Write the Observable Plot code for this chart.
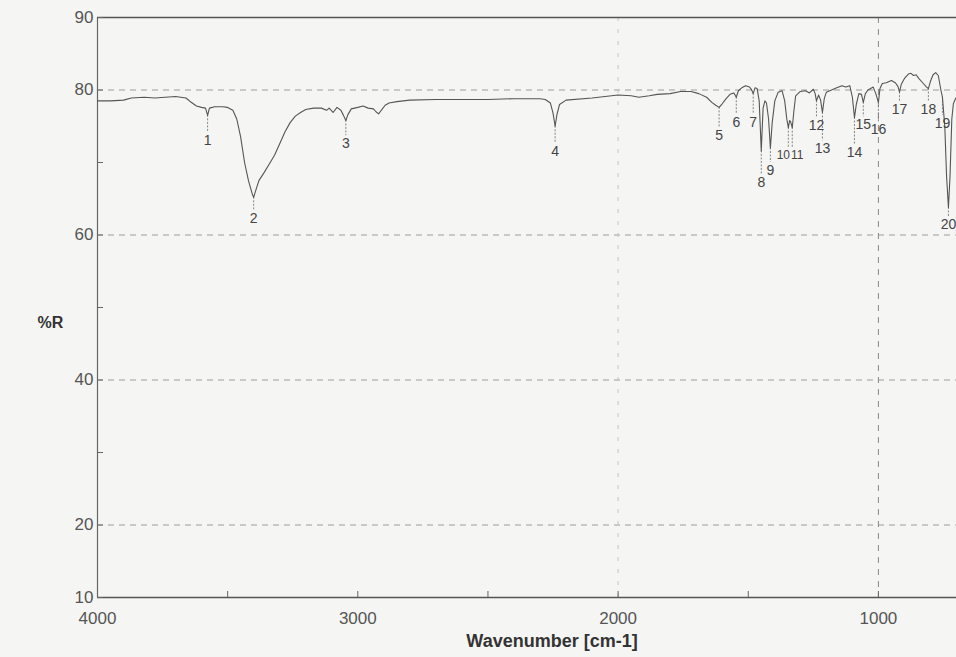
<!DOCTYPE html>
<html><head><meta charset="utf-8">
<script src="https://cdn.jsdelivr.net/npm/d3@7"></script>
<script src="https://cdn.jsdelivr.net/npm/@observablehq/plot@0.6"></script>
<style>
html,body{margin:0;padding:0;background:#f5f5f3;}
#chart{width:956px;height:657px;}
</style>
</head><body><div id="chart"></div>
<script>
// Spectrum (wavenumber in cm-1, %R)
const wavenumbers = [4000,3950,3900,3870,3820,3780,3740,3700,3660,3640,3620,3600,3585,3577,3570,3550,3520,3500,3480,3465,3450,3435,3420,3405,3400,3395,3380,3360,3340,3320,3300,3280,3260,3240,3220,3200,3170,3140,3120,3110,3095,3080,3065,3055,3046,3038,3025,3000,2980,2960,2940,2930,2920,2910,2895,2880,2850,2800,2700,2600,2500,2400,2300,2280,2260,2250,2242,2235,2225,2200,2100,2050,2000,1950,1920,1880,1850,1800,1760,1720,1690,1660,1640,1625,1612,1600,1585,1570,1555,1546,1538,1525,1510,1495,1488,1481,1474,1466,1458,1450,1443,1436,1430,1422,1415,1408,1398,1385,1370,1360,1352,1346,1341,1337,1331,1325,1318,1300,1280,1265,1250,1243,1238,1230,1222,1215,1208,1200,1180,1160,1140,1125,1110,1100,1092,1085,1075,1065,1058,1050,1040,1030,1020,1010,1000,994,985,970,950,935,925,919,912,900,885,875,865,855,845,830,815,808,800,790,780,770,760,754,745,738,731,725,718,712,704,700];
const reflectance = [78.5,78.5,78.6,78.9,79.0,78.9,79.0,79.1,78.9,78.3,77.8,77.6,77.5,76.5,77.5,77.7,77.7,77.6,77.2,76.0,73.5,70.0,67.5,65.6,65.2,65.8,67.5,68.6,69.8,71.0,72.6,74.2,75.5,76.4,76.9,77.3,77.5,77.5,77.2,77.5,76.9,77.6,77.2,76.5,75.8,76.6,77.4,77.6,77.8,77.5,77.4,77.0,76.7,77.2,77.9,78.2,78.4,78.6,78.7,78.7,78.7,78.8,78.8,78.7,78.2,76.8,75.0,76.6,78.0,78.6,78.9,79.1,79.3,79.2,79.0,79.2,79.4,79.5,79.8,79.8,79.5,79.0,78.3,77.9,77.6,78.1,78.8,79.4,79.6,79.0,79.9,80.3,80.6,80.4,80.1,79.5,80.3,80.2,78.5,71.6,77.5,78.5,78.2,76.0,72.0,75.5,78.5,79.7,79.9,78.5,76.0,74.8,75.8,75.6,74.8,77.0,79.2,79.8,79.9,79.6,80.1,79.5,78.5,79.3,78.6,76.9,78.8,79.7,80.0,80.3,80.6,80.4,80.6,79.0,76.2,78.0,79.5,79.4,78.3,79.5,80.0,80.2,80.4,79.5,78.3,80.2,80.9,81.0,81.3,81.0,80.5,79.7,80.8,81.6,82.2,82.3,82.0,82.1,81.6,81.0,80.4,80.2,81.2,82.1,82.4,82.0,80.0,79.0,75.0,68.0,63.8,68.0,76.0,78.1,78.8,79.0];

// Peak annotations
const peakNumbers = ["1","2","3","4","5","6","7","8","9","10","11","12","13","14","15","16","17","18","19","20"];
const peakWavenumbers = [3577,3400,3046,2242,1612,1546,1481,1450,1415,1346,1331,1238,1215,1092,1058,1000,919,808,754,731];
const peakMinima = [76.5,65.2,75.8,75.0,77.6,79.0,79.5,71.6,72.0,74.8,74.8,78.5,76.9,76.2,78.3,78.3,79.7,80.2,79.0,63.8];
const peakLabelY = [73.0,62.3,72.6,71.5,73.7,75.5,75.5,67.2,68.9,71.0,71.0,75.1,71.9,71.4,75.2,74.5,77.3,77.3,75.4,61.4];
const peakLabelShift = [0,0,0,0,0,0,0,0,0,-1,1,0,0,0,0,0,0,0,0,0];

// Axes
const xTickValues = [4000,3500,3000,2500,2000,1500,1000];
const xTickLabels = [4000,3000,2000,1000];
const yTickValues = [10,20,30,40,50,60,70,80,90];
const yTickLabels = [10,20,40,60,80,90];
const gridY = [20,40,60,80];
const gridXStrong = [1000];
const gridXFaint = [2000];
const xTitle = "Wavenumber [cm-1]";
const yTitle = "%R";

const spectrum = wavenumbers.map((w, i) => ({w, r: reflectance[i]}));
const peaks = peakNumbers.map((n, i) => ({n, w: peakWavenumbers[i], min: peakMinima[i], lab: peakLabelY[i], top: peakLabelY[i] + 1.1, shift: peakLabelShift[i]}));

const font = "'Liberation Sans', Arial, Helvetica, sans-serif";

const chart = Plot.plot({
  width: 956,
  height: 657,
  marginLeft: 97,
  marginRight: 0,
  marginTop: 17,
  marginBottom: 60,
  style: {background: "transparent", fontFamily: font, color: "#444"},
  x: {domain: [4000, 700], axis: null},
  y: {domain: [10, 90], axis: null},
  marks: [
    Plot.ruleY(gridY, {stroke: "#9c9c9c", strokeDasharray: "6,5", strokeWidth: 1}),
    Plot.ruleX(gridXStrong, {stroke: "#8a8a8a", strokeDasharray: "6,6", strokeWidth: 1}),
    Plot.ruleX(gridXFaint, {stroke: "#c4c4c4", strokeDasharray: "4,8", strokeWidth: 1}),
    Plot.ruleX([4000], {stroke: "#666", strokeWidth: 1.2}),
    Plot.ruleY([10], {stroke: "#555", strokeWidth: 1.3}),
    Plot.ruleY([90], {stroke: "#555", strokeWidth: 1.6}),
    Plot.axisX({ticks: xTickValues, tickSize: -6, tickFormat: () => "", stroke: "#666", label: null}),
    Plot.axisX({ticks: xTickLabels, tickSize: 0, tickPadding: 14, fontSize: 17, fill: "#555", label: null, tickFormat: d => String(d)}),
    Plot.axisY({ticks: yTickValues, tickSize: -6, tickFormat: () => "", stroke: "#666", label: null}),
    Plot.axisY({ticks: yTickLabels, tickSize: 0, tickPadding: 4, fontSize: 17, fill: "#555", label: null, tickFormat: d => String(d)}),
    Plot.text([xTitle], {frameAnchor: "bottom", dy: 49, dx: 25, fontSize: 18, fontWeight: "bold", fill: "#333"}),
    Plot.text([yTitle], {frameAnchor: "left", textAnchor: "middle", dx: -47, dy: 15, fontSize: 16, fontWeight: "bold", fill: "#333"}),
    Plot.ruleX(peaks, {x: "w", y1: "min", y2: "top", stroke: "#777", strokeWidth: 0.9, strokeDasharray: "2,1.5"}),
    Plot.line(spectrum, {x: "w", y: "r", stroke: "#555", strokeWidth: 1.1, curve: "linear"}),
    Plot.text(peaks.filter(d => d.shift === 0), {x: "w", y: "lab", text: "n", fontSize: 14, fill: "#444", lineAnchor: "middle"}),
    Plot.text(peaks.filter(d => d.shift < 0), {x: "w", y: "lab", text: "n", dx: -5, fontSize: 12, fill: "#444", lineAnchor: "middle"}),
    Plot.text(peaks.filter(d => d.shift > 0), {x: "w", y: "lab", text: "n", dx: 5, fontSize: 12, fill: "#444", lineAnchor: "middle"})
  ]
});
document.getElementById("chart").appendChild(chart);
</script>
</body></html>
